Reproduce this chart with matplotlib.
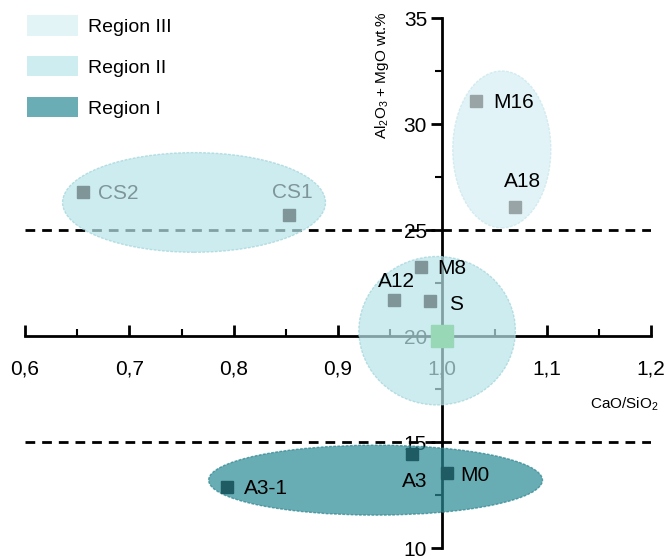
#----------------------------------------------------------------------------------------------------
# Imports
#----------------------------------------------------------------------------------------------------
import matplotlib
matplotlib.use("Agg")
import matplotlib.pyplot as plt
from matplotlib.patches import Ellipse, Patch
from matplotlib.ticker import MultipleLocator, FuncFormatter

plt.rcParams["font.family"] = ["Liberation Sans", "DejaVu Sans"]
plt.rcParams["mathtext.fontset"] = "custom"
plt.rcParams["mathtext.rm"] = "Liberation Sans"

#----------------------------------------------------------------------------------------------------
# Data
#----------------------------------------------------------------------------------------------------
labels = ["M16", "A18", "CS2", "CS1", "M8", "A12", "S", "A3", "M0", "A3-1"]
cao_sio2 = [1.032, 1.070, 0.656, 0.853, 0.980, 0.954, 0.988, 0.971, 1.004, 0.794]
al_mgo = [31.1, 26.1, 26.8, 25.7, 23.25, 21.7, 21.65, 14.45, 13.55, 12.9]
groups = ["III", "III", "II", "II", "II", "II", "II", "I", "I", "I"]

# reference point (green)
ref_x = [1.0]
ref_y = [20.0]

# regions: center x, center y, width, height
region_names = ["Region III", "Region II", "Region II", "Region I"]
region_cx = [1.057, 0.762, 0.995, 0.936]
region_cy = [28.8, 26.3, 20.25, 13.2]
region_w = [0.094, 0.252, 0.150, 0.320]
region_h = [7.4, 4.7, 7.0, 3.3]

boundaries = [25, 15]

#----------------------------------------------------------------------------------------------------
# Styles
#----------------------------------------------------------------------------------------------------
region_face = {"Region III": "#d7eff4", "Region II": "#b8e5ea", "Region I": "#2a8a95"}
region_edge = {"Region III": "#c6e6ec", "Region II": "#9fd3da", "Region I": "#2a8490"}
legend_face = {"Region III": "#e3f4f7", "Region II": "#cdedf0", "Region I": "#6aadb5"}
marker_color = {"III": "#98a4a5", "II": "#7f9597", "I": "#1f5b62"}
text_color = {"CS2": "#7f9598", "CS1": "#7f9598"}

# label offsets in pixels (dx, dy, ha)
offsets = {
    "M16": (18, -2, "left"),
    "A18": (7, 25, "center"),
    "CS2": (15, -2, "left"),
    "CS1": (3, 23, "center"),
    "M8": (16, -1, "left"),
    "A12": (2, 18, "center"),
    "S": (19, -3, "left"),
    "A3": (3, -28, "center"),
    "M0": (14, -3, "left"),
    "A3-1": (17, -2, "left"),
}

#----------------------------------------------------------------------------------------------------
# Plot
#----------------------------------------------------------------------------------------------------
fig = plt.figure(figsize=(6.66, 5.59), dpi=100)
ax = fig.add_axes([25 / 666, 1 - 548 / 559, 626 / 666, 530 / 559])

ax.set_xlim(0.6, 1.2)
ax.set_ylim(10, 35)

# axes crossing at (1.0, 20)
ax.spines["left"].set_position(("data", 1.0))
ax.spines["bottom"].set_position(("data", 20))
ax.spines["top"].set_visible(False)
ax.spines["right"].set_visible(False)
for s in ["left", "bottom"]:
    ax.spines[s].set_linewidth(2)
    ax.spines[s].set_zorder(1)

ax.xaxis.set_major_locator(MultipleLocator(0.1))
ax.xaxis.set_minor_locator(MultipleLocator(0.05))
ax.yaxis.set_major_locator(MultipleLocator(5))
ax.yaxis.set_minor_locator(MultipleLocator(2.5))
ax.xaxis.set_major_formatter(FuncFormatter(lambda v, p: f"{v:.1f}".replace(".", ",")))
ax.yaxis.set_major_formatter(FuncFormatter(lambda v, p: f"{v:.0f}"))

ax.tick_params(axis="x", which="major", direction="in", length=8, width=2, labelsize=15, pad=17)
ax.tick_params(axis="x", which="minor", direction="in", length=5, width=1.5)
ax.tick_params(axis="y", which="major", direction="out", length=8, width=2, labelsize=15, pad=3)
ax.tick_params(axis="y", which="minor", direction="out", length=5, width=1.5)

# dashed boundaries
for b in boundaries:
    ax.axhline(b, color="black", linestyle=(0, (3.5, 2.5)), linewidth=2, zorder=2)

# region ellipses
for name, cx, cy, w, h in zip(region_names, region_cx, region_cy, region_w, region_h):
    e = Ellipse((cx, cy), w, h, facecolor=region_face[name], edgecolor=region_edge[name],
                linestyle=(0, (2, 1)), linewidth=1, alpha=0.7, zorder=3)
    ax.add_patch(e)

# sample points
for lab, x, y, g in zip(labels, cao_sio2, al_mgo, groups):
    ax.plot(x, y, marker="s", markersize=8, color=marker_color[g], linestyle="none", zorder=4)

# green reference square
ax.plot(ref_x, ref_y, marker="s", markersize=16, color="#98d8b6", linestyle="none", zorder=4)

# point labels
for lab, x, y in zip(labels, cao_sio2, al_mgo):
    dx, dy, ha = offsets[lab]
    ax.annotate(lab, (x, y), xytext=(dx, dy), textcoords="offset pixels",
                ha=ha, va="center", fontsize=15, color=text_color.get(lab, "black"), zorder=5)

# axis titles
ax.text(0.570, 0.892, "Al$_2$O$_3$ + MgO wt.%", transform=ax.transAxes, rotation=90,
        ha="center", va="center", fontsize=11)
ax.text(0.957, 0.272, "CaO/SiO$_2$", transform=ax.transAxes, ha="center", va="center", fontsize=11)

# legend
handles = [Patch(facecolor=legend_face[n], edgecolor="none") for n in ["Region III", "Region II", "Region I"]]
fig.legend(handles, ["Region III", "Region II", "Region I"], loc="upper left",
           bbox_to_anchor=(27 / 666, 1 - 15 / 559), bbox_transform=fig.transFigure,
           frameon=False, fontsize=14, handlelength=2.6, handleheight=1.25,
           labelspacing=1.03, handletextpad=0.55, borderpad=0, borderaxespad=0)

fig.savefig("out.png", dpi=100)
